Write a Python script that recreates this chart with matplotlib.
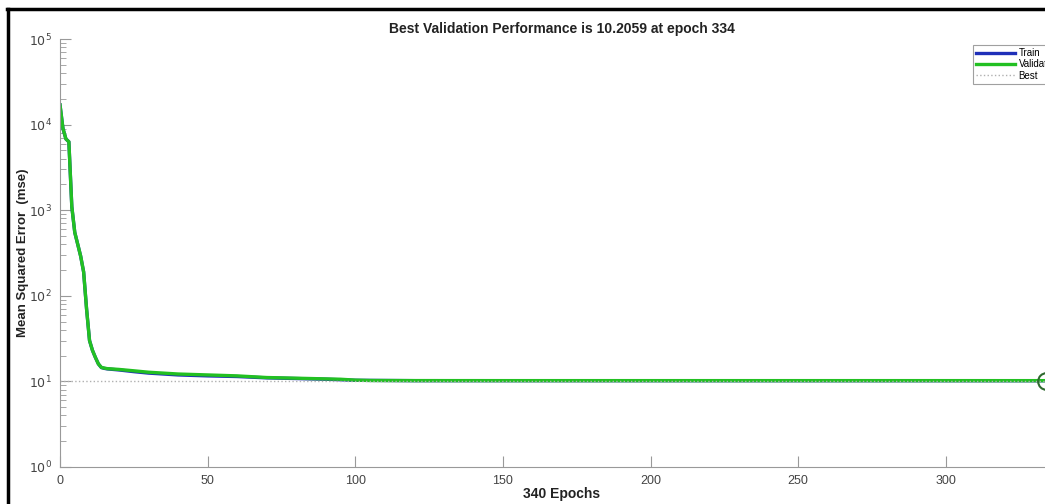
"""Training performance plot: mean squared error per epoch on a log scale."""
import numpy as np
from matplotlib import pyplot as plt
from matplotlib.lines import Line2D

plt.rcParams["font.family"] = ["Liberation Sans", "DejaVu Sans"]

# epoch numbers and mse values
val_epochs = [0, 1, 2, 3, 4, 5, 6, 7, 8, 9, 10, 11, 12, 13, 14, 15, 16, 20, 25,
              30, 35, 40, 50, 60, 70, 80, 90, 95, 100, 105, 120, 150, 200, 250,
              300, 334, 340]
val_mse = [17000, 9000, 6800, 6300, 1100, 550, 400, 290, 190, 70, 30, 23, 19,
           16, 14.6, 14.3, 14.1, 13.8, 13.3, 12.8, 12.5, 12.2, 11.9, 11.6, 11.1,
           10.9, 10.7, 10.6, 10.35, 10.25, 10.22, 10.21, 10.21, 10.21, 10.21,
           10.2059, 10.2059]

train_epochs = [0, 1, 2, 3, 4, 5, 6, 7, 8, 9, 10, 11, 12, 13, 14, 15, 16, 20,
                25, 30, 35, 40, 50, 60, 70, 80, 90, 100, 120, 200, 340]
train_mse = [17000, 9000, 6800, 6300, 1100, 550, 400, 290, 190, 70, 30, 23, 19,
             16, 14.5, 14.2, 14.0, 13.6, 13.0, 12.5, 12.2, 11.9, 11.6, 11.4,
             11.0, 10.8, 10.6, 10.3, 10.2, 10.19, 10.18]

best_epoch = 334
best_perf = 10.2059
n_epochs = 340

x_ticks = [0, 50, 100, 150, 200, 250, 300]
y_ticks = [1e0, 1e1, 1e2, 1e3, 1e4, 1e5]
y_labels = ["$10^{%d}$" % k for k in range(6)]

fig = plt.figure(figsize=(10.45, 5.04), dpi=100)
ax = fig.add_axes([60 / 1045, 37 / 504, 1004 / 1045, 428 / 504])

ax.plot(train_epochs, train_mse, color="#1f2fb8", lw=2.4, label="Train")
ax.plot(val_epochs, val_mse, color="#22c022", lw=2.4, label="Validation")
ax.axhline(best_perf, color="#b0b0b0", lw=1, ls=":", label="Best")
ax.axvline(best_epoch, color="#b0b0b0", lw=1, ls=":")
ax.plot([best_epoch], [best_perf], "o", ms=12, mfc="none", mec="#2f6a2f", mew=1.5)

ax.set_yscale("log")
ax.set_ylim(1, 1e5)
ax.set_xlim(0, n_epochs)
ax.set_xticks(x_ticks)
ax.set_yticks(y_ticks)
ax.set_yticklabels(y_labels)

for side in ["top", "right"]:
    ax.spines[side].set_visible(False)
for side in ["left", "bottom"]:
    ax.spines[side].set_color("#999999")
ax.tick_params(which="major", direction="in", length=8, color="#999999",
               labelsize=9, labelcolor="#444444", pad=6)
ax.tick_params(which="minor", direction="in", length=4, color="#999999")
ax.tick_params(axis="x", which="minor", length=0)

ax.set_xlabel("340 Epochs", fontsize=10, fontweight="bold", color="#222222")
ax.xaxis.set_label_coords(0.5, -0.047)
ax.set_ylabel("Mean Squared Error  (mse)", fontsize=9.5, fontweight="bold",
              color="#222222")
ax.yaxis.set_label_coords(-0.031, 0.5)
ax.set_title("Best Validation Performance is 10.2059 at epoch 334",
             fontsize=10, fontweight="bold", color="#222222", pad=4.5)

leg = fig.legend(loc="upper left", bbox_to_anchor=(973 / 1045, 1 - 45 / 504),
                 fontsize=7, handlelength=4, frameon=True, fancybox=False,
                 borderpad=0.3, labelspacing=0.15, handletextpad=0.4,
                 borderaxespad=0)
leg.get_frame().set_edgecolor("#888888")
leg.get_frame().set_linewidth(0.8)

# dark frame along the top and left edge
fig.add_artist(Line2D([7 / 1045, 1], [1 - 9 / 504, 1 - 9 / 504],
                      color="black", lw=2.5))
fig.add_artist(Line2D([8 / 1045, 8 / 1045], [0, 1 - 9 / 504],
                      color="black", lw=2.5))

fig.savefig("out.png", dpi=100)
